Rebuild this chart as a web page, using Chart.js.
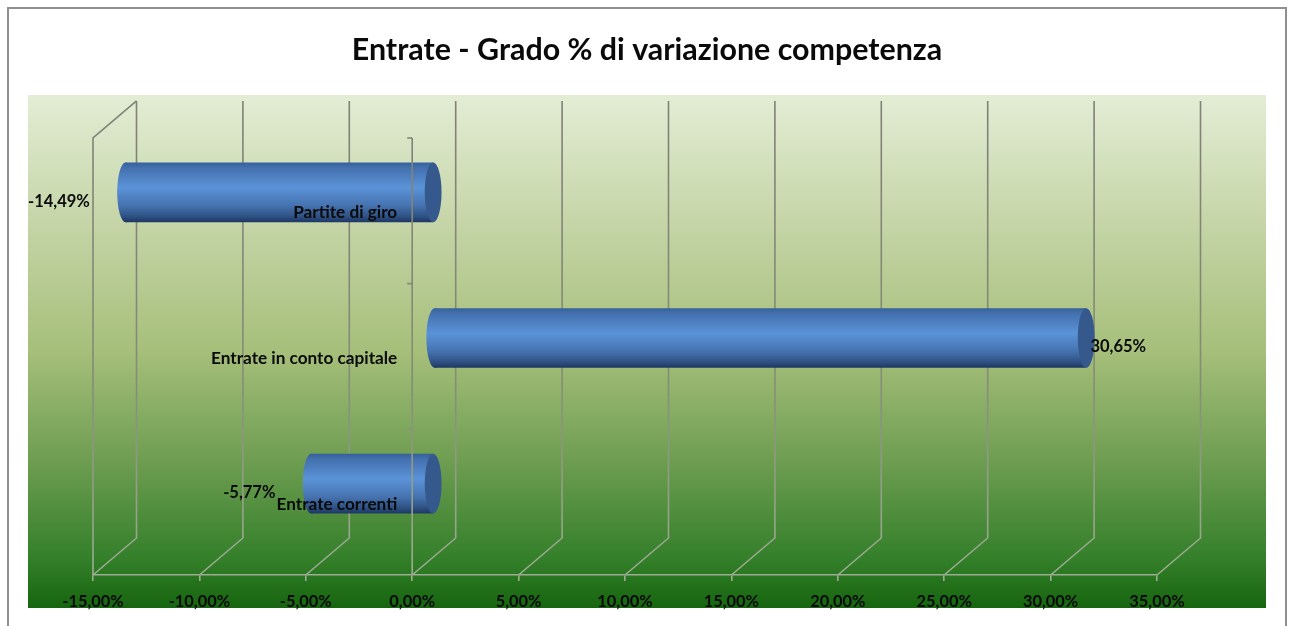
<!DOCTYPE html>
<html><head><meta charset="utf-8">
<style>html,body{margin:0;padding:0;background:#fff;overflow:hidden}canvas{display:block;filter:blur(0.35px)}</style>
<script src="https://cdn.jsdelivr.net/npm/chart.js@4"></script>
</head><body><canvas id="c" width="1291" height="626"></canvas>
<script>
const titleText = 'Entrate - Grado % di variazione competenza';
const categories = ['Partite di giro', 'Entrate in conto capitale', 'Entrate correnti'];
const values = [-14.49, 30.65, -5.77];
const valueLabels = ['-14,49%', '30,65%', '-5,77%'];
const xTickLabels = ['-15,00%', '-10,00%', '-5,00%', '0,00%', '5,00%', '10,00%', '15,00%', '20,00%', '25,00%', '30,00%', '35,00%'];

const FONT = 'Lato, Carlito, sans-serif';
const DEPTH_X = 43.5, DEPTH_Y = -37, CAP_RX = 8.4;
const BAR_PCT = 0.41;
const GRID_LOW = 'rgb(158,172,148)';

function barGradient(ctx, y, h) {
  const g = ctx.createLinearGradient(0, y - h / 2, 0, y + h / 2);
  g.addColorStop(0, '#34609a');
  g.addColorStop(0.08, '#436fad');
  g.addColorStop(0.42, '#5b93d8');
  g.addColorStop(0.72, '#4673b0');
  g.addColorStop(0.9, '#2f5284');
  g.addColorStop(1, '#1d3763');
  return g;
}

function gridStroke(c, area) {
  const g = c.createLinearGradient(0, area.top + DEPTH_Y, 0, area.bottom);
  g.addColorStop(0, 'rgb(128,128,120)');
  g.addColorStop(0.6, 'rgb(132,142,118)');
  g.addColorStop(1, GRID_LOW);
  return g;
}

const cylinder3d = {
  id: 'cylinder3d',
  beforeDraw(chart) {
    const c = chart.ctx;
    if (chart.titleBlock) { chart.titleBlock.left = 3; chart.titleBlock.right = 1291; }
    c.save();
    c.fillStyle = '#fff';
    c.fillRect(0, 0, chart.width, chart.height);
    c.strokeStyle = '#8f8f8f';
    c.lineWidth = 2;
    c.strokeRect(8, 8, 1278, 640);
    const g = c.createLinearGradient(0, 95, 0, 608);
    g.addColorStop(0, '#e3edd5');
    g.addColorStop(0.25, '#c5d5a7');
    g.addColorStop(0.5, '#a6bf7a');
    g.addColorStop(0.72, '#6c9c50');
    g.addColorStop(0.9, '#35802b');
    g.addColorStop(1, '#16650f');
    c.fillStyle = g;
    c.fillRect(28, 95, 1238, 513);
    c.restore();
  },
  beforeDatasetsDraw(chart) {
    const c = chart.ctx, xs = chart.scales.x, area = chart.chartArea;
    c.save();
    c.strokeStyle = gridStroke(c, area);
    c.lineWidth = 1.6;
    xs.ticks.forEach(t => {
      const px = xs.getPixelForValue(t.value);
      c.beginPath();
      c.moveTo(px, area.bottom);
      c.lineTo(px + DEPTH_X, area.bottom + DEPTH_Y);
      c.lineTo(px + DEPTH_X, area.top + DEPTH_Y);
      c.stroke();
    });
    c.beginPath();
    c.moveTo(area.left, area.bottom);
    c.lineTo(area.left, area.top);
    c.lineTo(area.left + DEPTH_X, area.top + DEPTH_Y);
    c.stroke();
    c.restore();

    c.save();
    c.translate(DEPTH_X / 2, DEPTH_Y / 2);
    chart.getDatasetMeta(0).data.forEach(el => {
      const left = Math.min(el.x, el.base);
      const top = el.y - el.height / 2;
      c.fillStyle = barGradient(c, el.y, el.height);
      c.beginPath();
      c.ellipse(left, el.y, CAP_RX, el.height / 2, 0, Math.PI / 2, Math.PI * 1.5);
      c.lineTo(left + 1.5, top);
      c.lineTo(left + 1.5, top + el.height);
      c.closePath();
      c.fill();
    });
  },
  afterDatasetsDraw(chart) {
    const c = chart.ctx, xs = chart.scales.x, ys = chart.scales.y, area = chart.chartArea;
    chart.getDatasetMeta(0).data.forEach(el => {
      const right = Math.max(el.x, el.base);
      c.fillStyle = '#35598c';
      c.beginPath();
      c.ellipse(right, el.y, CAP_RX, el.height / 2, 0, 0, Math.PI * 2);
      c.fill();
    });
    c.restore();

    // category axis line at zero with its band ticks, above the bars
    const zero = xs.getPixelForValue(0);
    const band = area.height / categories.length;
    c.save();
    c.strokeStyle = gridStroke(c, area);
    c.lineWidth = 1.6;
    c.beginPath();
    c.moveTo(zero, area.bottom);
    c.lineTo(zero, area.top);
    categories.forEach((_, i) => {
      const py = ys.getPixelForValue(i) - band / 2;
      c.moveTo(zero, py);
      c.lineTo(zero - 5, py);
    });
    c.stroke();
    c.restore();
  },
  afterDraw(chart) {
    const c = chart.ctx;
    c.save();
    c.font = '700 16.5px ' + FONT;
    c.fillStyle = '#0a0a0a';
    c.textBaseline = 'middle';
    chart.getDatasetMeta(0).data.forEach((el, i) => {
      const neg = values[i] < 0;
      c.textAlign = neg ? 'right' : 'left';
      c.fillText(valueLabels[i], el.x + (neg ? -14 : 26), el.y - 9.5);
    });
    c.restore();
  }
};

new Chart(document.getElementById('c'), {
  type: 'bar',
  plugins: [cylinder3d],
  data: {
    labels: categories,
    datasets: [{
      data: values,
      clip: false,
      borderWidth: 0,
      barPercentage: BAR_PCT,
      categoryPercentage: 1,
      backgroundColor(ctx) {
        const ys = ctx.chart.scales.y;
        if (!ys || ctx.dataIndex === undefined) return '#4a7ab8';
        const y = ys.getPixelForValue(ctx.dataIndex);
        const band = ys.height / categories.length;
        if (!Number.isFinite(y) || !Number.isFinite(band)) return '#4a7ab8';
        return barGradient(ctx.chart.ctx, y, band * BAR_PCT);
      }
    }]
  },
  options: {
    indexAxis: 'y',
    responsive: false,
    animation: false,
    layout: { padding: { left: 93, right: 134, top: 0, bottom: 0 } },
    plugins: {
      legend: { display: false },
      tooltip: { enabled: false },
      title: {
        display: true,
        text: titleText,
        color: '#0a0a0a',
        font: { family: FONT, size: 30.4, weight: '700' },
        padding: { top: 32, bottom: 69.5 }
      }
    },
    scales: {
      x: {
        min: -15, max: 35,
        afterFit(s) { s.height = 51; s.paddingLeft = 0; s.paddingRight = 0; },
        grid: { drawOnChartArea: false, color: GRID_LOW, lineWidth: 1.6, tickLength: 6 },
        border: { color: GRID_LOW, width: 1.6 },
        ticks: {
          stepSize: 5, autoSkip: false, maxRotation: 0, padding: 11, color: '#0a0a0a',
          font: { family: FONT, size: 16.4, weight: '700' },
          callback(v, i) { return xTickLabels[i]; }
        }
      },
      y: {
        position: { x: -0.705 },
        afterFit(s) { s.paddingTop = 0; s.paddingBottom = 0; },
        grid: { display: false },
        border: { display: false },
        ticks: {
          z: 1, color: '#0a0a0a', labelOffset: 2,
          font: { family: FONT, size: 17.2, weight: '700' }
        }
      }
    }
  }
});
</script></body></html>
